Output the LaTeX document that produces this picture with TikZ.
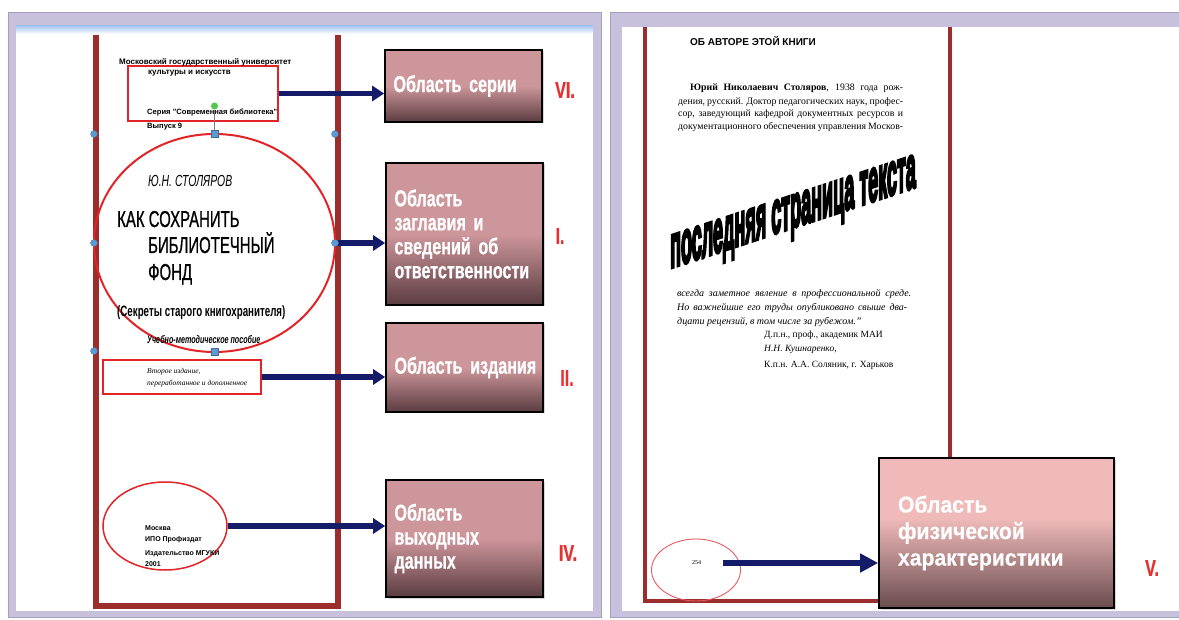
\documentclass[tikz,border=0pt]{standalone}
\usepackage{fontspec}
\setmainfont{Liberation Serif}
\newfontfamily\sansf{Liberation Sans}
\newfontfamily\boxfont[FakeStretch=0.7, BoldFeatures={FakeBold=0.6}]{Liberation Sans}
\newfontfamily\boxfontw[FakeStretch=0.92, BoldFeatures={FakeBold=0.4}]{Liberation Sans}
\newfontfamily\covfont[FakeStretch=0.65, UprightFeatures={FakeBold=0.8}]{Liberation Sans}
\newfontfamily\artfont{Liberation Sans}
\newcommand{\heavytext}[1]{\special{pdf:literal direct 2 Tr 1.3 w}#1\special{pdf:literal direct 0 Tr}}
\usetikzlibrary{arrows.meta,positioning,shapes.geometric,shadows}

\definecolor{panellav}{RGB}{200,193,222}
\definecolor{panelgray}{RGB}{165,160,185}
\definecolor{stripblue}{RGB}{168,200,240}
\definecolor{pagered}{RGB}{155,45,45}
\definecolor{markred}{RGB}{226,35,40}
\definecolor{numred}{RGB}{232,48,48}
\definecolor{arrnavy}{RGB}{20,28,105}
\definecolor{handleblue}{RGB}{91,155,213}
\definecolor{rotgreen}{RGB}{80,200,80}
\definecolor{boxpink}{RGB}{205,150,155}
\definecolor{boxdark}{RGB}{90,60,65}
\definecolor{boxpinkw}{RGB}{240,186,186}
\definecolor{boxdarkw}{RGB}{105,76,79}
\pgfdeclareverticalshading{areagrad}{100bp}{color(0bp)=(boxdark); color(25bp)=(boxdark); color(50bp)=(boxpink); color(100bp)=(boxpink)}
\pgfdeclareverticalshading{areagradw}{100bp}{color(0bp)=(boxdarkw); color(25bp)=(boxdarkw); color(55bp)=(boxpinkw); color(100bp)=(boxpinkw)}

\begin{document}
\begin{tikzpicture}[x=1pt, y=-1pt,
  pageline/.style={draw=pagered, line width=6pt},
  markbox/.style={draw=markred, line width=2pt, inner sep=0pt},
  markoval/.style={draw=markred, line width=2pt, ellipse, inner sep=0pt},
  handle/.style={circle, fill=handleblue, draw=handleblue!70!black, line width=0.3pt, minimum size=7pt, inner sep=0pt},
  handlesq/.style={rectangle, fill=handleblue, draw=handleblue!70!black, line width=0.3pt, minimum size=7pt, inner sep=0pt},
  txt/.style={inner sep=0pt, anchor=base west},
  areabox/.style={draw=black, line width=1.6pt, shade, shading=areagrad, text=white, align=left, inner xsep=8.5pt, text width=140pt, font=\boxfont\bfseries\fontsize{23}{24}\selectfont, drop shadow={shadow xshift=1.5pt, shadow yshift=-1.5pt, opacity=0.3}},
  roman/.style={text=numred, inner sep=0pt, font=\boxfont\bfseries\fontsize{23}{23}\selectfont},
  arr/.style={draw=arrnavy, line width=5.5pt, -{Triangle[length=12pt, width=15pt]}}]
\useasboundingbox (0,0) rectangle (1179,620);
% panels
\fill[panellav] (8,12) rectangle (601,617);
\draw[panelgray, line width=0.6pt] (8,12) rectangle (601,617);
\fill[white] (16,27) rectangle (593,611);
\shade[top color=stripblue, bottom color=white] (16,26) rectangle (593,34);
\fill[panellav] (610,12) rectangle (1185,617);
\draw[panelgray, line width=0.6pt] (1185,12) -- (610,12) -- (610,617) -- (1185,617);
\fill[white] (622,27) rectangle (1185,611);

% title page
\draw[pageline] (96,35) -- (96,606) -- (338,606) -- (338,35);
\node[markbox, minimum width=150pt, minimum height=55pt] (ser) at (203,93.5) {};
\node[txt, font=\sansf\bfseries\fontsize{8}{9}\selectfont] (uni) at (119,65) {Московский государственный университет};
\node[txt, font=\sansf\bfseries\fontsize{8}{9}\selectfont] (uni2) at (148,75) {культуры и искусств};
\node[txt, font=\sansf\bfseries\fontsize{7.6}{9}\selectfont] (sr) at (147,114.5) {Серия "Современная библиотека"};
\node[txt, font=\sansf\bfseries\fontsize{7.6}{9}\selectfont] (vyp) at (147,129) {Выпуск 9};
\node[markoval, minimum width=241pt, minimum height=218pt] (ttl) at (214.5,243) {};
\node[txt, font=\covfont\itshape\fontsize{16}{16}\selectfont] (auth) at (148,187) {Ю.Н. СТОЛЯРОВ};
\node[txt, font=\covfont\fontsize{23}{23}\selectfont] (t1) at (117,227) {КАК СОХРАНИТЬ};
\node[txt, font=\covfont\fontsize{23}{23}\selectfont] (t2) at (148,253) {БИБЛИОТЕЧНЫЙ};
\node[txt, font=\covfont\fontsize{23}{23}\selectfont] (t3) at (148,280) {ФОНД};
\node[txt, font=\covfont\bfseries\fontsize{15}{15}\selectfont] (sub) at (117,317) {(Секреты старого книгохранителя)};
\node[txt, font=\covfont\bfseries\itshape\fontsize{11}{11}\selectfont] (kind) at (147,344) {Учебно-методическое пособие};
\node[markbox, minimum width=158pt, minimum height=34pt] (ed) at (182,377) {};
\node[txt, font=\itshape\fontsize{7.5}{9}\selectfont] (ed1) at (147,373.5) {Второе издание,};
\node[txt, font=\itshape\fontsize{7.5}{9}\selectfont] (ed2) at (147,385.5) {переработанное и дополненное};
\node[markoval, line width=1.5pt, minimum width=124pt, minimum height=88pt] (imp) at (165,526) {};
\node[txt, font=\sansf\bfseries\fontsize{7}{8}\selectfont] (im1) at (145,530.5) {Москва};
\node[txt, font=\sansf\bfseries\fontsize{7}{8}\selectfont] (im2) at (145,541.5) {ИПО Профиздат};
\node[txt, font=\sansf\bfseries\fontsize{7}{8}\selectfont] (im3) at (145,555.5) {Издательство МГУКИ};
\node[txt, font=\sansf\bfseries\fontsize{7}{8}\selectfont] (im4) at (145,566.5) {2001};

% areas
\node[areabox, minimum height=72pt] (b1) at (463.5,86) {Область серии};
\node[areabox, minimum height=142pt] (b2) at (464.5,234) {Область\\заглавия и\\сведений об\\ответственности};
\node[areabox, minimum height=89pt] (b3) at (464.5,367.5) {\mbox{Область издания}};
\node[areabox, minimum height=117pt] (b4) at (464.5,538.5) {Область\\выходных\\данных};
\node[roman] (r6) at (565,90) {VI.};
\node[roman] (r1) at (560,236) {I.};
\node[roman] (r2) at (567,378) {II.};
\node[roman] (r4) at (568,553) {IV.};
\draw[arr] (ser.east) -- (ser.east -| b1.west);
\draw[arr] (ttl.east) -- (ttl.east -| b2.west);
\draw[arr] (ed.east) -- (ed.east -| b3.west);
\draw[arr] (imp.east) -- (imp.east -| b4.west);

% selection handles
\node[circle, fill=rotgreen, minimum size=7pt, inner sep=0pt] (rot) at (214.5,106) {};
\node[handlesq] (sq1) at (214.5,134) {};
\node[handlesq] (sq2) at (214.5,352) {};
\draw[gray, line width=0.6pt] (rot) -- (sq1);
\foreach \hx/\hy [count=\k] in {94/134, 335/134, 94/243, 335/243, 94/351} {\node[handle] (hd\k) at (\hx,\hy) {};}

% last page
\draw[pageline, line width=4.5pt] (645,27) -- (645,601) -- (885,601);
\draw[pageline, line width=4.5pt] (950,27) -- (950,462);
\node[areabox, shading=areagradw, text width=197pt, inner xsep=19pt, minimum height=150pt, font=\boxfontw\bfseries\fontsize{23}{26.5}\selectfont] (b5) at (996.5,533) {Область\\физической\\характеристики};
\node[roman] (r5) at (1152,568) {V.};
\node[txt, font=\sansf\bfseries\fontsize{10}{11}\selectfont] (ab) at (690,45.5) {ОБ АВТОРЕ ЭТОЙ КНИГИ};
\node[txt, font=\fontsize{9.8}{11}\selectfont] (p1) at (690,91) {\makebox[213pt][s]{\textbf{Юрий Николаевич Столяров}, 1938 года рож-}};
\node[txt, font=\fontsize{9.8}{11}\selectfont] (p2) at (678,104.5) {\makebox[225pt][s]{дения, русский. Доктор педагогических наук, профес-}};
\node[txt, font=\fontsize{9.8}{11}\selectfont] (p3) at (678,117) {\makebox[225pt][s]{сор, заведующий кафедрой документных ресурсов и}};
\node[txt, font=\fontsize{9.8}{11}\selectfont] (p4) at (678,130) {\makebox[225pt][s]{документационного обеспечения управления Москов-}};
\node[txt, yslant=0.33, xscale=0.9, yscale=3, font=\artfont\bfseries\fontsize{20}{20}\selectfont] (art) at (670,268) {\heavytext{последняя страница текста}};
\node[txt, font=\itshape\fontsize{10}{11}\selectfont] (q1) at (677,297) {\makebox[234pt][s]{всегда заметное явление в профессиональной среде.}};
\node[txt, font=\itshape\fontsize{10}{11}\selectfont] (q2) at (677,311) {\makebox[230pt][s]{Но важнейшие его труды опубликовано свыше два-}};
\node[txt, font=\itshape\fontsize{10}{11}\selectfont] (q3) at (677,325) {дцати рецензий, в том числе за рубежом.”};
\node[txt, font=\fontsize{9.5}{11}\selectfont] (s1) at (764,338) {Д.п.н., проф., академик МАИ};
\node[txt, font=\itshape\fontsize{9.5}{11}\selectfont] (s2) at (764,352) {Н.Н. Кушнаренко,};
\node[txt, font=\fontsize{9.5}{11}\selectfont] (s3) at (764,368) {К.п.н. А.А. Соляник, г. Харьков};
\node[draw=markred!75, line width=0.9pt, ellipse, inner sep=0pt, minimum width=89pt, minimum height=62pt] (pnum) at (696,570) {};
\node[inner sep=0pt, font=\fontsize{6}{7}\selectfont] (n254) at (696.5,563) {254};
\coordinate (a5) at (723,563);
\draw[arr, -{Triangle[length=18pt, width=18pt]}] (a5) -- (a5 -| b5.west);
\end{tikzpicture}
\end{document}
